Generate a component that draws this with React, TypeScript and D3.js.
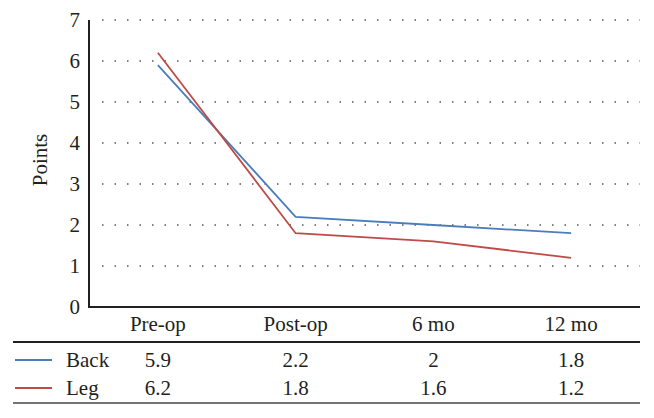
import * as d3 from "d3";

const categories = ["Pre-op", "Post-op", "6 mo", "12 mo"];
const backValues = [5.9, 2.2, 2, 1.8];
const legValues = [6.2, 1.8, 1.6, 1.2];
const yTicks = [0, 1, 2, 3, 4, 5, 6, 7];

const series = [
  { name: "Back", values: backValues, color: "#4a7ebb" },
  { name: "Leg", values: legValues, color: "#be4b48" },
];

const W = 654;
const H = 418;
const FONT = "'Liberation Serif', 'Times New Roman', serif";
const INK = "#231f20";

export default function App() {
  const x = d3.scaleBand<string>().domain(categories).range([89, 640]);
  const y = d3.scaleLinear().domain([0, 7]).range([307, 20]);

  const line = d3
    .line<number>()
    .x((_, i) => x(categories[i])! + x.bandwidth() / 2)
    .y((d) => y(d));

  const rowY = [360, 388]; // table row centers

  return (
    <svg
      width={W}
      height={H}
      style={{ position: "absolute", left: 0, top: 0, background: "#fff" }}
      fontFamily={FONT}
    >
      {/* dotted grid */}
      {yTicks
        .filter((t) => t > 0)
        .map((t) => (
          <line
            key={"g" + t}
            x1={102}
            x2={640}
            y1={y(t)}
            y2={y(t)}
            stroke="#555"
            strokeWidth={1.5}
            strokeDasharray="1.5 11"
          />
        ))}

      {/* axes */}
      <line x1={89} x2={89} y1={y(7)} y2={y(0)} stroke={INK} strokeWidth={2} />
      <line x1={88} x2={640} y1={y(0)} y2={y(0)} stroke={INK} strokeWidth={2} />

      {yTicks.map((t) => (
        <text
          key={"t" + t}
          x={80}
          y={y(t)}
          dy="0.34em"
          textAnchor="end"
          fontSize={21}
          fill={INK}
        >
          {t}
        </text>
      ))}

      <text
        transform={`translate(47,160) rotate(-90)`}
        textAnchor="middle"
        fontSize={21}
        fill={INK}
      >
        Points
      </text>

      {/* series lines */}
      {series.map((s) => (
        <path
          key={s.name}
          d={line(s.values)!}
          fill="none"
          stroke={s.color}
          strokeWidth={1.8}
        />
      ))}

      {/* data table */}
      {categories.map((c) => (
        <text
          key={"c" + c}
          x={x(c)! + x.bandwidth() / 2}
          y={331}
          textAnchor="middle"
          fontSize={21}
          fill={INK}
        >
          {c}
        </text>
      ))}
      <line x1={13} x2={640} y1={342} y2={342} stroke={INK} strokeWidth={2} />
      {series.map((s, r) => (
        <g key={"row" + s.name}>
          <line x1={15} x2={52} y1={rowY[r]} y2={rowY[r]} stroke={s.color} strokeWidth={1.8} />
          <text x={66} y={rowY[r]} dy="0.34em" fontSize={21} fill={INK}>
            {s.name}
          </text>
          {s.values.map((v, i) => (
            <text
              key={i}
              x={x(categories[i])! + x.bandwidth() / 2}
              y={rowY[r]}
              dy="0.34em"
              textAnchor="middle"
              fontSize={21}
              fill={INK}
            >
              {v}
            </text>
          ))}
        </g>
      ))}
      <line x1={13} x2={640} y1={403} y2={403} stroke="#444" strokeWidth={1.5} />
    </svg>
  );
}
